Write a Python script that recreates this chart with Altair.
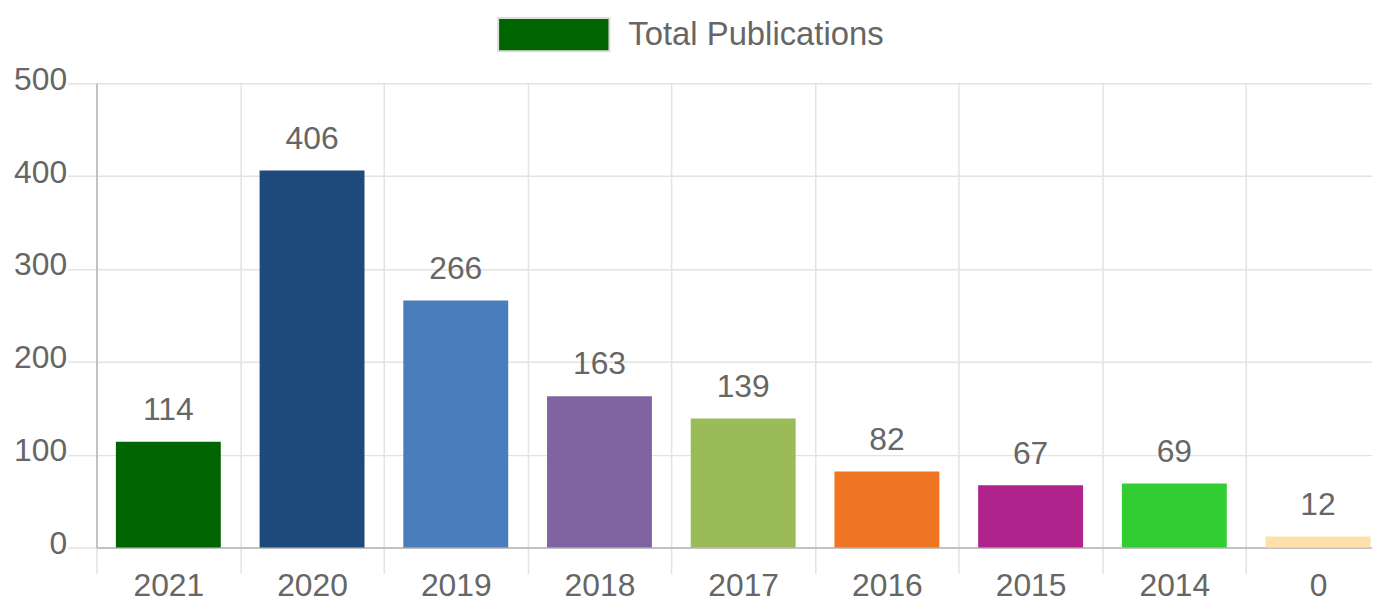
import altair as alt
import pandas as pd

categories = ["2021", "2020", "2019", "2018", "2017", "2016", "2015", "2014", "0"]
values = [114, 406, 266, 163, 139, 82, 67, 69, 12]
bar_colors = ["#006400", "#1d497b", "#4a7dbb", "#8064a2", "#9bbb59",
              "#f07522", "#b0228c", "#32cd32", "#ffdfaa"]
series_name = "Total Publications"
y_ticks = [0, 100, 200, 300, 400, 500]

df = pd.DataFrame({
    "year": categories,
    "count": values,
    "barcolor": bar_colors,
    "series": [series_name] * len(categories),
})

FONT = "Liberation Sans"
GRID = "#e3e3e3"
FS = 32

x_enc = alt.X("year:N", sort=categories, title=None,
              scale=alt.Scale(paddingInner=0, paddingOuter=0),
              axis=alt.Axis(labelAngle=0, tickBand="extent", grid=True,
                            gridColor=GRID, gridWidth=1.5,
                            tickColor=GRID, tickWidth=1.5, tickSize=26,
                            domainColor="#b5b5b5", domainWidth=1.5,
                            labelFontSize=FS,
                            labelColor="#666666", labelFont=FONT,
                            labelPadding=-3))
y_enc = alt.Y("count:Q", title=None,
              scale=alt.Scale(domain=[0, 500], nice=False),
              axis=alt.Axis(values=y_ticks, grid=True, gridColor=GRID,
                            gridWidth=1.5,
                            tickColor=GRID, tickWidth=1.5, tickSize=29,
                            labelPadding=1,
                            domainColor="#b5b5b5", domainWidth=1.5,
                            labelFontSize=FS,
                            labelColor="#666666", labelFont=FONT,
                            labelOffset=-4))

base = alt.Chart(df)

bars = base.mark_bar(width=alt.RelativeBandSize(0.73)).encode(
    x=x_enc,
    y=y_enc,
    fill=alt.Fill("barcolor:N", scale=None, legend=None),
)

legend_layer = base.mark_bar(width=alt.RelativeBandSize(0.73), opacity=0).encode(
    x=alt.X("year:N", sort=categories),
    y=alt.Y("count:Q"),
    color=alt.Color("series:N",
                    scale=alt.Scale(domain=[series_name], range=["#006400"]),
                    legend=alt.Legend(title=None, orient="none",
                                      legendX=403, legendY=-106,
                                      symbolType="M-1,-0.3H1V0.3H-1Z",
                                      symbolSize=12544,
                                      symbolOpacity=1,
                                      symbolFillColor="#006400",
                                      symbolStrokeColor="#dddddd",
                                      symbolStrokeWidth=2,
                                      labelFontSize=33, labelColor="#666666",
                                      labelFont=FONT, labelOffset=18,
                                      labelLimit=500,
                                      padding=0)),
)

labels = base.mark_text(baseline="alphabetic", dy=-22, fontSize=FS,
                        color="#666666", font=FONT).encode(
    x=alt.X("year:N", sort=categories),
    y=alt.Y("count:Q"),
    text=alt.Text("count:Q"),
)

chart = alt.layer(bars, legend_layer, labels).properties(
    width=1301, height=467,
    padding={"left": 89, "top": 74, "right": -18, "bottom": 56},
    autosize=alt.AutoSizeParams(type="none"),
).configure_view(stroke=None)

chart.save("out.html", embed_options={"renderer": "svg", "actions": False})
